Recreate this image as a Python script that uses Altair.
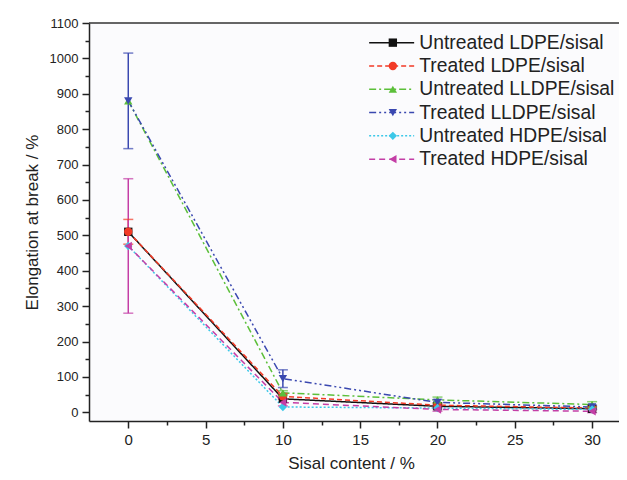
import altair as alt
import pandas as pd

sisal_content = [0, 10, 20, 30]

series_names = [
    "Untreated LDPE/sisal",
    "Treated LDPE/sisal",
    "Untreated LLDPE/sisal",
    "Treated LLDPE/sisal",
    "Untreated HDPE/sisal",
    "Treated HDPE/sisal",
]

untreated_ldpe = [510, 38, 17, 10]
treated_ldpe = [510, 45, 20, 12]
untreated_lldpe = [880, 55, 35, 22]
treated_lldpe = [880, 95, 28, 15]
untreated_hdpe = [470, 15, 12, 8]
treated_hdpe = [470, 28, 8, 3]

untreated_ldpe_err = [0, 0, 0, 0]
treated_ldpe_err = [35, 8, 5, 4]
untreated_lldpe_err = [0, 6, 8, 8]
treated_lldpe_err = [135, 25, 8, 5]
untreated_hdpe_err = [0, 0, 0, 0]
treated_hdpe_err = [190, 10, 5, 4]

colors = ["#111111", "#f23a26", "#5cbf3a", "#3a48b0", "#3cc8e8", "#c43ea6"]
shapes = ["square", "circle", "triangle-up", "triangle-down", "diamond", "triangle-left"]
dashes = [[1, 0], [5, 3], [7, 3, 2, 3], [7, 3, 2, 3, 2, 3], [2, 2], [6, 4]]

all_values = [untreated_ldpe, treated_ldpe, untreated_lldpe, treated_lldpe, untreated_hdpe, treated_hdpe]
all_errs = [untreated_ldpe_err, treated_ldpe_err, untreated_lldpe_err, treated_lldpe_err,
            untreated_hdpe_err, treated_hdpe_err]

rows = []
for name, vals, errs in zip(series_names, all_values, all_errs):
    for xv, yv, ev in zip(sisal_content, vals, errs):
        rows.append({"series": name, "x": xv, "y": yv, "err": ev, "lo": yv - ev, "hi": yv + ev})
df = pd.DataFrame(rows)

FONT = "Liberation Sans"
LEG_FONT = 19.3
LEG_ROWPAD = 3.3
LEG_X = 293
LEG_Y = 10
LEG_LABEL_OFFSET = 18

xscale = alt.Scale(domain=[-2.54, 31.74], nice=False, zero=False)
yscale = alt.Scale(domain=[-24.6, 1100], nice=False, zero=False)


def x_axis():
    return alt.Axis(
        title="Sisal content / %",
        values=[v * 2.5 for v in range(0, 13)],
        labelExpr="datum.value % 5 === 0 ? datum.label : ''",
        tickSize={"condition": {"test": "datum.value % 5 === 0", "value": 7}, "value": 4},
        grid=False,
        labelFontSize=15,
        titleFontSize=17,
        labelPadding=4,
        titlePadding=8,
        titleX=262,
    )


def y_axis():
    return alt.Axis(
        title="Elongation at break / %",
        values=list(range(0, 1101, 50)),
        labelExpr="datum.value % 100 === 0 ? datum.label : ''",
        format="d",
        tickSize={"condition": {"test": "datum.value % 100 === 0", "value": 7}, "value": 4},
        grid=False,
        labelFontSize=13,
        titleFontSize=17,
        labelPadding=4,
        titlePadding=8,
    )


base = alt.Chart(df)

color_scale = alt.Scale(domain=series_names, range=colors)


def line_legend():
    return alt.Legend(
        title=None, orient="none", legendX=LEG_X, legendY=LEG_Y,
        symbolType="M-4.5,0H4.5", symbolSize=100, symbolStrokeWidth=1.5,
        labelFontSize=LEG_FONT, labelFont=FONT, labelColor="#222222",
        labelOffset=LEG_LABEL_OFFSET, rowPadding=LEG_ROWPAD, padding=0, labelLimit=400)


def point_legend():
    return alt.Legend(
        title=None, orient="none", legendX=LEG_X + 1.2, legendY=LEG_Y,
        symbolSize=70, labelFontSize=LEG_FONT, labelFont=FONT,
        labelColor="transparent", labelOffset=LEG_LABEL_OFFSET, rowPadding=LEG_ROWPAD,
        padding=0, labelLimit=400)


lines = base.mark_line(strokeWidth=1.5).encode(
    x=alt.X("x:Q", scale=xscale, axis=x_axis()),
    y=alt.Y("y:Q", scale=yscale, axis=y_axis()),
    color=alt.Color("series:N", scale=color_scale, legend=line_legend()),
    strokeDash=alt.StrokeDash("series:N", scale=alt.Scale(domain=series_names, range=dashes),
                              legend=line_legend()),
    detail="series:N",
)

err_df = base.transform_filter("datum.err > 0")

err_rules = err_df.mark_rule(strokeWidth=1.5).encode(
    x=alt.X("x:Q", scale=xscale, axis=x_axis()),
    y=alt.Y("lo:Q", scale=yscale, axis=y_axis()),
    y2="hi:Q",
    color=alt.Color("series:N", scale=color_scale, legend=None),
)

err_caps = err_df.transform_fold(["lo", "hi"], as_=["end", "val"]).mark_tick(
    orient="horizontal", size=10, thickness=1.5
).encode(
    x=alt.X("x:Q", scale=xscale, axis=x_axis()),
    y=alt.Y("val:Q", scale=yscale, axis=y_axis()),
    color=alt.Color("series:N", scale=color_scale, legend=None),
)

points = base.mark_point(filled=True, size=70, opacity=1).encode(
    x=alt.X("x:Q", scale=xscale, axis=x_axis()),
    y=alt.Y("y:Q", scale=yscale, axis=y_axis()),
    color=alt.Color("series:N", scale=color_scale, legend=point_legend()),
    shape=alt.Shape("series:N", scale=alt.Scale(domain=series_names, range=shapes),
                    legend=point_legend()),
)

top_border = alt.Chart(pd.DataFrame({"top": [1100]})).mark_rule(
    color="#333333", strokeWidth=1.5
).encode(y=alt.Y("top:Q", scale=yscale, axis=y_axis()))

chart = alt.layer(lines, err_rules, err_caps, points, top_border).resolve_scale(
    color="independent", strokeDash="independent", shape="independent"
).properties(
    width=530,
    height=398,
    padding={"left": 81, "top": 15, "right": 0, "bottom": 58},
    autosize=alt.AutoSizeParams(type="none"),
    background="#ffffff",
).configure_view(
    stroke=None, fill="#fbfbfd"
).configure_axis(
    labelFont=FONT, titleFont=FONT, labelColor="#222222", titleColor="#222222",
    titleFontWeight="normal", domainColor="#222222", domainWidth=1.5,
    tickColor="#222222", tickWidth=1.5,
)

chart.save("out.html", embed_options={"renderer": "svg", "actions": False})
